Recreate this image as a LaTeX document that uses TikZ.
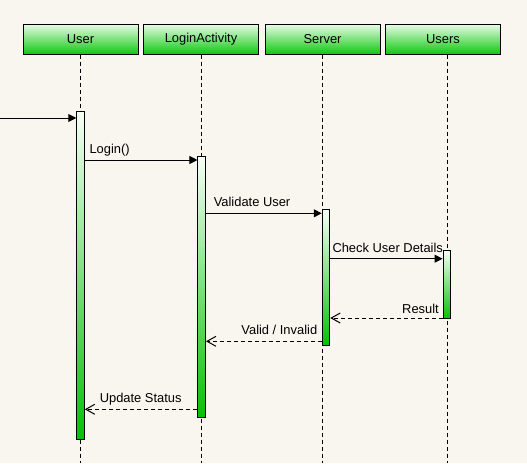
\documentclass[tikz,border=0pt]{standalone}
\usepackage{fontspec}
\setmainfont{Liberation Sans}
\usetikzlibrary{arrows.meta}

\definecolor{bgcol}{HTML}{F9F6F0}
\definecolor{headtop}{HTML}{E8FCE8}
\definecolor{headbot}{HTML}{10C810}
\definecolor{bartop}{HTML}{F6FFF6}
\definecolor{barbot}{HTML}{06C006}

\begin{document}
\begin{tikzpicture}[x=1pt, y=-1pt, line width=1pt,
    every node/.style={font=\fontsize{12.9}{15}\selectfont, inner sep=0pt},
    head/.style={draw, minimum width=115pt, minimum height=30pt,
                 top color=headtop, bottom color=headbot},
    bar/.style={draw, minimum width=7.5pt, anchor=north,
                top color=bartop, bottom color=barbot},
    life/.style={dash pattern=on 4pt off 3pt},
    call/.style={-{Triangle[length=8pt,width=8pt]}},
    reply/.style={dash pattern=on 4pt off 3pt,
                  -{Straight Barb[length=9pt,width=10pt]}}]

  % --- Hintergrund ---
  \useasboundingbox[fill=bgcol] (0,0) rectangle (527,463);
  \coordinate (bottom) at (0,463);

  % --- Köpfe ---
  \node[head] (U)  at (80.5,39)  {User};
  \node[head] (LA) at (201,39)   {LoginActivity};
  \node[head] (S)  at (322.5,39) {Server};
  \node[head] (US) at (443,39)   {Users};

  % --- Lebenslinien ---
  \foreach \n/\x in {U/80.5, LA/201.5, S/322.5, US/447.5}
    \draw[life] (\n.south -| \x,0) -- (\x,0 |- bottom);

  % --- Aktivierungsbalken ---
  \node[bar, minimum height=328pt] (barU)  at (80.5,111)  {};
  \node[bar, minimum height=261pt] (barLA) at (201.7,156) {};
  \node[bar, minimum height=136pt] (barS)  at (326,209.3) {};
  \node[bar, minimum height=68pt]  (barUS) at (446.8,250.3) {};

  % --- Aufrufe ---
  \coordinate (found)   at (0,118);
  \coordinate (mLogin)  at (0,160);
  \coordinate (mValid)  at (0,213.3);
  \coordinate (mCheck)  at (0,258.7);
  \draw[call] (found) -- (barU.west |- found);
  \draw[call] (barU.east |- mLogin)  -- (barLA.west |- mLogin);
  \draw[call] (barLA.east |- mValid) -- (barS.west |- mValid);
  \draw[call] (barS.east |- mCheck)  -- (barUS.west |- mCheck);

  \node[anchor=base west] (lLogin) at (89,153)    {Login()};
  \node[anchor=base west] (lValid) at (213.3,206) {Validate User};
  \node[anchor=base west] (lCheck) at (332,252.3) {Check User Details};

  % --- Antworten ---
  \coordinate (rResult) at (0,318);
  \coordinate (rValid)  at (0,341.3);
  \coordinate (rUpdate) at (0,409.3);
  \draw[reply] (barUS.west |- rResult) -- (barS.east |- rResult);
  \draw[reply] (barS.west |- rValid)   -- (barLA.east |- rValid);
  \draw[reply] (barLA.west |- rUpdate) -- (barU.east |- rUpdate);

  \node[anchor=base east] (lResult) at (439.3,313.3) {Result};
  \node[anchor=base east] (lInval)  at (317.7,334)   {Valid / Invalid};
  \node[anchor=base west] (lUpdate) at (99.3,402)    {Update Status};

\end{tikzpicture}
\end{document}
